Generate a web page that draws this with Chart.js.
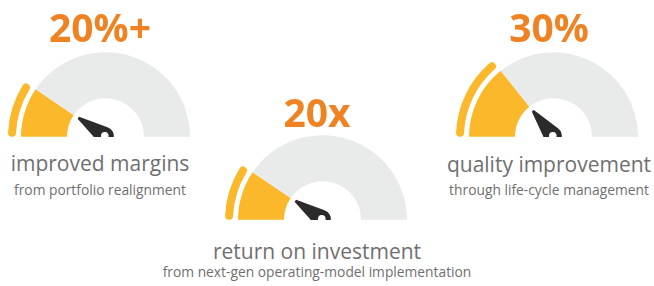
<!DOCTYPE html>
<html>
<head>
<meta charset="utf-8">
<script src="https://cdn.jsdelivr.net/npm/chart.js@4.4.1/dist/chart.umd.min.js"></script>
<style>
  html, body { margin: 0; padding: 0; background: #fff; }
  body { width: 654px; height: 286px; position: relative; overflow: hidden; font-family: "Open Sans", sans-serif; }
  canvas { position: absolute; }
  .txt { position: absolute; white-space: nowrap; transform: translateX(-50%); line-height: 1; }
  .big { font-size: 39px; font-weight: 700; color: #ef8323; }
  .cap { font-size: 21px; color: #6f6f6f; }
  .sub { font-size: 13.8px; color: #6f6f6f; }
</style>
</head>
<body>
<script>
// DATA
const headlines = ['20%+', '20x', '30%'];
const captions = ['improved margins', 'return on investment', 'quality improvement'];
const subCaptions = ['from portfolio realignment', 'from next-gen operating-model implementation', 'through life-cycle management'];
const fillValues = [19, 19, 28.5];   // share of the half dial that is filled (of 100)
const dialMax = 100;

// LAYOUT (gauge canvas top-left, text centre x and baselines)
const gaugeBoxes = [[8, 39], [225, 122], [456, 39]];
const textSpots = [
  { x: 100, big: 42, cap: 172, sub: 195 },
  { x: 317, big: 127, cap: 260, sub: 277 },
  { x: 549, big: 42, cap: 173, sub: 195 }
];

const YELLOW = '#fbb82b';
const GREY = '#e9eaea';
const NEEDLE = '#2b2b2b';

// needle drawn at the end angle of the filled arc
const needlePlugin = {
  id: 'needle',
  afterDatasetsDraw(chart) {
    const arc = chart.getDatasetMeta(2).data[0];
    const { x, y, endAngle } = arc.getProps(['x', 'y', 'endAngle'], true);
    const ctx = chart.ctx;
    const cx = x - 0.7, cy = y - 1;
    const r = 9, len = 32, tipHalf = 1.3;
    const beta = Math.acos(r / len);
    const tx = cx + len * Math.cos(endAngle), ty = cy + len * Math.sin(endAngle);
    const px = -Math.sin(endAngle) * tipHalf, py = Math.cos(endAngle) * tipHalf;
    ctx.save();
    ctx.fillStyle = NEEDLE;
    ctx.beginPath();
    ctx.moveTo(tx - px, ty - py);
    ctx.lineTo(tx + px, ty + py);
    ctx.arc(cx, cy, r, endAngle + beta, endAngle - beta + Math.PI * 2);
    ctx.closePath();
    ctx.fill();
    ctx.fillStyle = '#fff';
    ctx.beginPath();
    ctx.arc(cx, cy, 3.8, 0, Math.PI * 2);
    ctx.fill();
    ctx.restore();
  }
};

function addText(cls, text, x, baseline, size) {
  const d = document.createElement('div');
  d.className = 'txt ' + cls;
  d.textContent = text;
  d.style.left = x + 'px';
  d.style.top = (baseline - 0.888 * size) + 'px';
  document.body.appendChild(d);
}

fillValues.forEach((v, i) => {
  const canvas = document.createElement('canvas');
  canvas.width = 195;
  canvas.height = 98;
  canvas.style.left = gaugeBoxes[i][0] + 'px';
  canvas.style.top = gaugeBoxes[i][1] + 'px';
  document.body.appendChild(canvas);

  new Chart(canvas.getContext('2d'), {
    type: 'doughnut',
    data: {
      datasets: [
        { // thin outer band
          data: [v, dialMax - v],
          backgroundColor: [YELLOW, 'rgba(0,0,0,0)'],
          borderWidth: 0,
          borderRadius: 4,
          weight: 8
        },
        { // gap
          data: [dialMax],
          backgroundColor: ['rgba(0,0,0,0)'],
          borderWidth: 0,
          weight: 5
        },
        { // main dial
          data: [v, dialMax - v],
          backgroundColor: [YELLOW, GREY],
          borderWidth: 0,
          weight: 46
        }
      ]
    },
    options: {
      responsive: false,
      animation: false,
      devicePixelRatio: 1,
      rotation: -90,
      circumference: 180,
      cutout: '39.5%',
      events: [],
      plugins: { legend: { display: false }, tooltip: { enabled: false } }
    },
    plugins: [needlePlugin]
  });

  const t = textSpots[i];
  addText('big', headlines[i], t.x, t.big, 39);
  addText('cap', captions[i], t.x, t.cap, 21);
  addText('sub', subCaptions[i], t.x, t.sub, 13.8);
});
</script>
</body>
</html>
